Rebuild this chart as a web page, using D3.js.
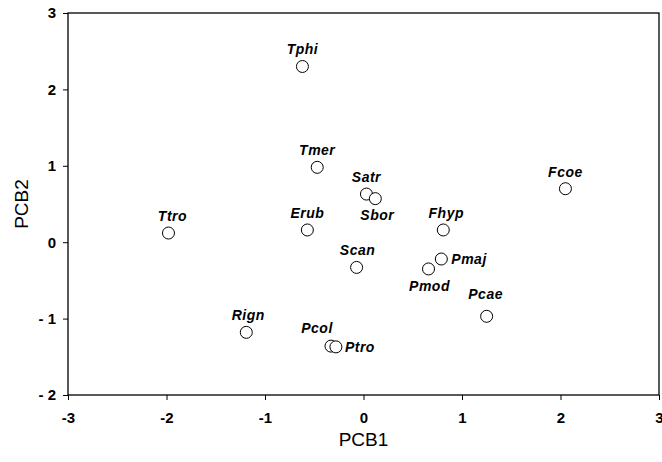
<!DOCTYPE html>
<html>
<head>
<meta charset="utf-8">
<script src="https://cdn.jsdelivr.net/npm/d3@7"></script>
<style>
  body { margin: 0; background: #fff; }
  svg text { font-family: Arial, "Liberation Sans", Helvetica, sans-serif; }
</style>
</head>
<body>
<svg id="chart" width="662" height="462"></svg>
<script>
// species codes and their scores on the two axes
var species = ["Tphi", "Tmer", "Satr", "Sbor", "Fcoe", "Ttro", "Erub", "Fhyp",
               "Scan", "Pmaj", "Pmod", "Pcae", "Rign", "Pcol", "Ptro"];
var pcb1 = [-0.62, -0.47, 0.03, 0.12, 2.05, -1.98, -0.57, 0.81,
            -0.07, 0.79, 0.66, 1.25, -1.19, -0.33, -0.28];
var pcb2 = [2.30, 0.98, 0.63, 0.57, 0.70, 0.12, 0.16, 0.16,
            -0.33, -0.22, -0.35, -0.97, -1.18, -1.36, -1.37];
var xTicks = [-3, -2, -1, 0, 1, 2, 3];
var yTicks = [-2, -1, 0, 1, 2, 3];

// where each label sits relative to its circle
var labelPlace = {
  Tphi: [0, -12, "middle"], Tmer: [0, -12, "middle"], Satr: [0, -12, "middle"],
  Sbor: [2, 21, "middle"], Fcoe: [0, -12, "middle"], Ttro: [4, -12, "middle"],
  Erub: [0, -12, "middle"], Fhyp: [3, -12, "middle"], Scan: [1, -12, "middle"],
  Pmaj: [10, 5, "start"], Pmod: [1, 22, "middle"], Pcae: [-1, -17, "middle"],
  Rign: [2, -12, "middle"], Pcol: [-14, -13, "middle"], Ptro: [9, 5, "start"]
};

var svg = d3.select("#chart");
var margin = {left: 68, right: 4, top: 13, bottom: 67};
var W = +svg.attr("width"), H = +svg.attr("height");

var x = d3.scaleLinear().domain([-3, 3]).range([margin.left, W - margin.right + 1]);
var y = d3.scaleLinear().domain([-2, 3]).range([H - margin.bottom, margin.top]);

// frame
svg.append("rect")
  .attr("x", x(-3)).attr("y", y(3))
  .attr("width", x(3) - x(-3)).attr("height", y(-2) - y(3))
  .attr("fill", "none").attr("stroke", "#000").attr("stroke-width", 1.3);

var xAxis = svg.append("g")
  .attr("transform", "translate(0," + y(-2) + ")")
  .call(d3.axisBottom(x).tickValues(xTicks).tickSize(5).tickPadding(12)
        .tickFormat(function(d){ return d < 0 ? "-" + Math.abs(d) : d; }));
var yAxis = svg.append("g")
  .attr("transform", "translate(" + x(-3) + ",0)")
  .call(d3.axisLeft(y).tickValues(yTicks).tickSize(5).tickPadding(7)
        .tickFormat(function(d){ return d < 0 ? "- " + Math.abs(d) : d; }));

[xAxis, yAxis].forEach(function(g){
  g.select(".domain").remove();
  g.selectAll("line").attr("stroke", "#000");
  g.selectAll("text").attr("fill", "#000").style("font-size", "15px").style("font-weight", "bold");
});

svg.append("text").attr("x", (x(-3) + x(3)) / 2).attr("y", 446)
  .attr("text-anchor", "middle").style("font-size", "19px").text("PCB1");
svg.append("text")
  .attr("transform", "translate(28," + (y(-2) + y(3)) / 2 + ") rotate(-90)")
  .attr("text-anchor", "middle").style("font-size", "19px").text("PCB2");

var pts = species.map(function(s, i){ return {name: s, a: pcb1[i], b: pcb2[i]}; });

svg.selectAll(".pt").data(pts).enter().append("circle")
  .attr("class", "pt")
  .attr("cx", function(d){ return x(d.a); })
  .attr("cy", function(d){ return y(d.b); })
  .attr("r", 6)
  .attr("fill", "#fff").attr("stroke", "#000").attr("stroke-width", 1);

svg.selectAll(".lab").data(pts).enter().append("text")
  .attr("class", "lab")
  .attr("x", function(d){ return x(d.a) + labelPlace[d.name][0]; })
  .attr("y", function(d){ return y(d.b) + labelPlace[d.name][1]; })
  .attr("text-anchor", function(d){ return labelPlace[d.name][2]; })
  .style("font-size", "14px").style("font-style", "italic").style("font-weight", "bold")
  .style("letter-spacing", "0.5px")
  .text(function(d){ return d.name; });
</script>
</body>
</html>
